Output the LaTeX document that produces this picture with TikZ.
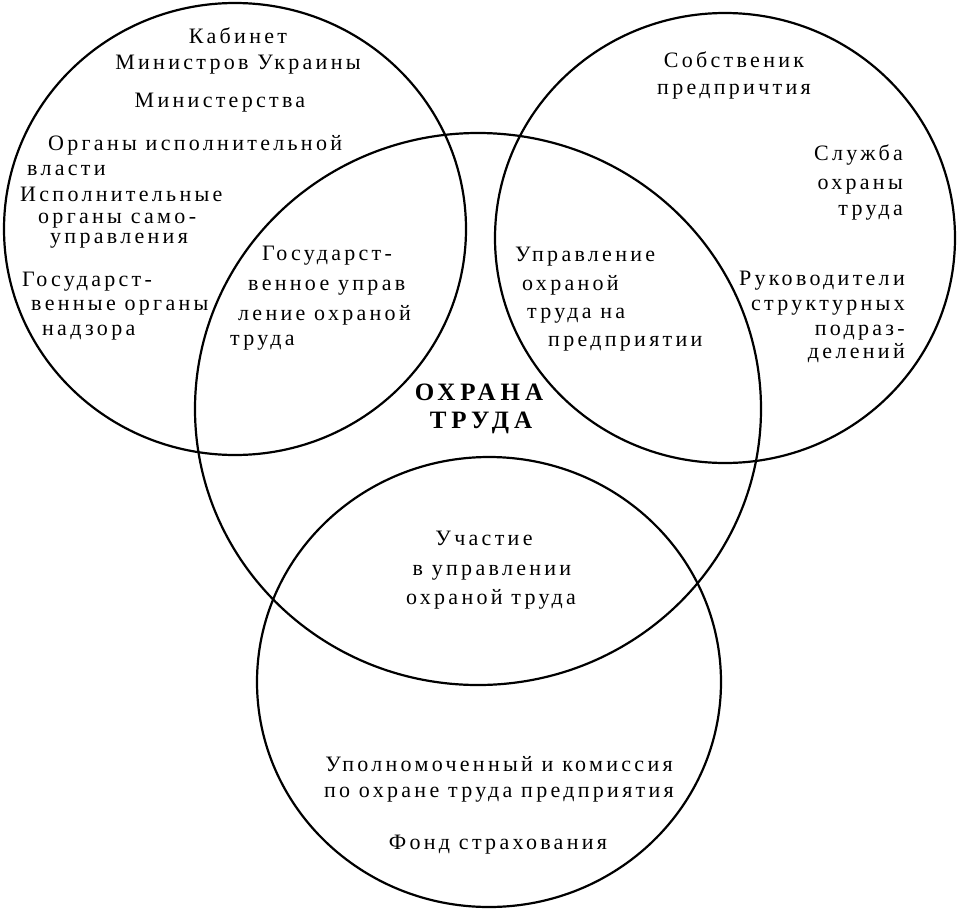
\documentclass[tikz,border=0pt]{standalone}
\usepackage{fontspec}
\setmainfont{Liberation Serif}
\newfontfamily\spaced[LetterSpace=15]{Liberation Serif}
\newfontfamily\spacedbold[LetterSpace=20]{Liberation Serif}
\tikzset{
  ring/.style={line width=2.2pt},
  lbl/.style={inner sep=0pt, font=\spaced\fontsize{22}{26}\selectfont},
  lblL/.style={lbl, anchor=mid west},
  lblR/.style={lbl, anchor=mid east},
  lblC/.style={lbl, anchor=mid},
  title/.style={inner sep=0pt, anchor=mid, font=\spacedbold\bfseries\fontsize{25}{29}\selectfont}
}
\begin{document}
\begin{tikzpicture}[x=1pt,y=-1pt]
\useasboundingbox (0,0) rectangle (958,908);
% circles
\draw[ring] (235,229) ellipse [x radius=231, y radius=226];
\draw[ring] (725,238) ellipse [x radius=230, y radius=225];
\draw[ring] (478,409) ellipse [x radius=283, y radius=276];
\draw[ring] (489,682) ellipse [x radius=232, y radius=225];
% left circle
\node[lblC] (ka) at (238,41) {Кабинет};
\node[lblC] (mu) at (238,67) {Министров Украины};
\node[lblC] (mi) at (220,105) {Министерства};
\node[lblL] (oi) at (48,148) {Органы исполнительной};
\node[lblL] (vl) at (27,173) {власти};
\node[lblL] (is) at (20,199) {Исполнительные};
\node[lblL] (os) at (38,221) {органы само-};
\node[lblL] (up) at (50,241) {управления};
\node[lblL] (g1) at (22,284) {Государст-};
\node[lblL] (g2) at (31,308) {венные органы};
\node[lblL] (g3) at (42,333) {надзора};
% left intersection
\node[lblL] (s1) at (262,258) {Государст-};
\node[lblL] (s2) at (248,288) {венное управ};
\node[lblL] (s3) at (238,318) {ление охраной};
\node[lblL] (s4) at (230,343) {труда};
% right intersection
\node[lblL] (p1) at (515,259) {Управление};
\node[lblL] (p2) at (522,288) {охраной};
\node[lblL] (p3) at (527,316) {труда на};
\node[lblL] (p4) at (548,344) {предприятии};
% centre
\node[title] (t1) at (479,398) {ОХРАНА};
\node[title] (t2) at (481,426) {ТРУДА};
% right circle
\node[lblC] (r1) at (734,65) {Собственик};
\node[lblC] (r2) at (734,92) {предпричтия};
\node[lblR] (r3) at (903,158) {Служба};
\node[lblR] (r4) at (903,187) {охраны};
\node[lblR] (r5) at (903,213) {труда};
\node[lblR] (r6) at (905,283) {Руководители};
\node[lblR] (r7) at (905,308) {структурных};
\node[lblR] (r8) at (905,333) {подраз-};
\node[lblR] (r9) at (905,356) {делений};
% bottom intersection
\node[lblC] (b1) at (484,543) {Участие};
\node[lblC] (b2) at (492,573) {в управлении};
\node[lblC] (b3) at (491,602) {охраной труда};
% bottom circle
\node[lblC] (u1) at (499,769) {Уполномоченный и комиссия};
\node[lblC] (u2) at (499,795) {по охране труда предприятия};
\node[lblC] (u3) at (498,847) {Фонд страхования};
\end{tikzpicture}
\end{document}
